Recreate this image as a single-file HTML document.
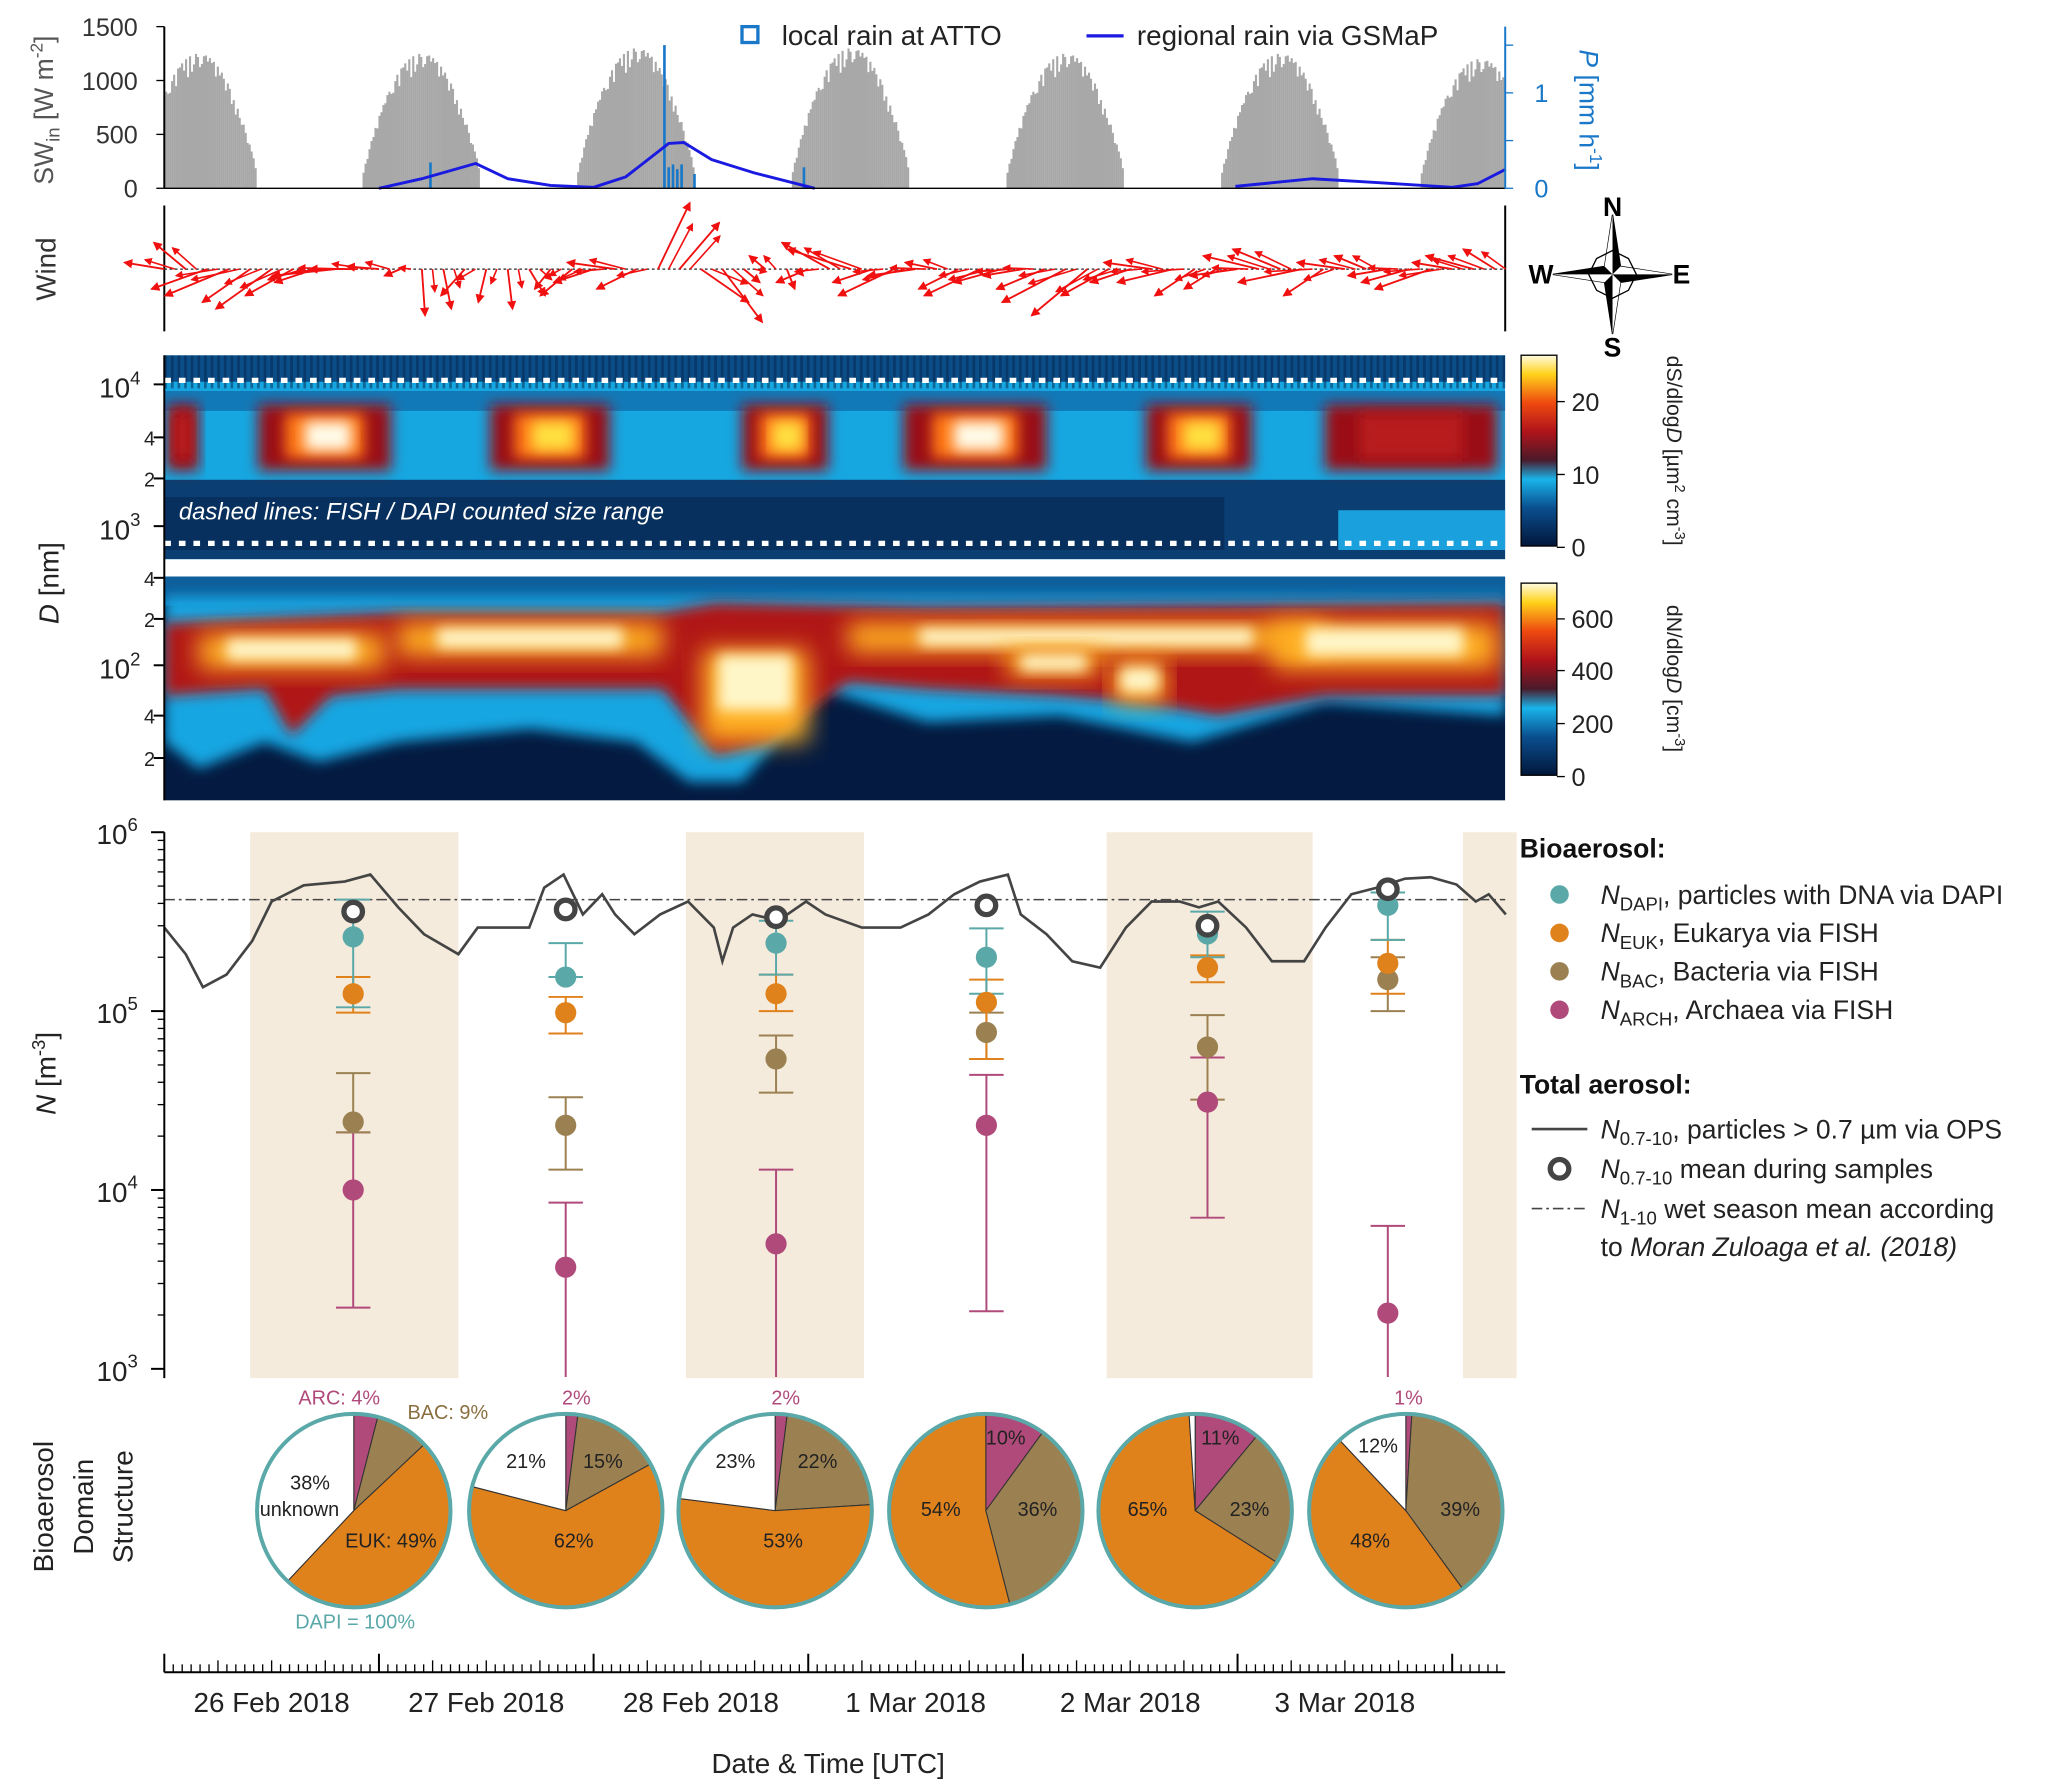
<!DOCTYPE html>
<html><head><meta charset="utf-8"><style>
html,body{margin:0;padding:0;background:#fff}
svg{display:block;font-family:"Liberation Sans",Arial,sans-serif}
</style></head><body>
<svg id="fig" width="2067" height="1789" viewBox="0 0 1560 1350" xmlns="http://www.w3.org/2000/svg">
<defs>
<linearGradient id="cbS" x1="0" y1="1" x2="0" y2="0"><stop offset="0" stop-color="#02163a"/><stop offset="0.2" stop-color="#0a4f8f"/><stop offset="0.35" stop-color="#19b4ea"/><stop offset="0.45" stop-color="#4a1a2a"/><stop offset="0.6" stop-color="#b0131a"/><stop offset="0.75" stop-color="#ee4a10"/><stop offset="0.9" stop-color="#ffd21a"/><stop offset="1" stop-color="#fffbe0"/></linearGradient>
<filter id="bl" x="-20%" y="-50%" width="140%" height="200%"><feGaussianBlur stdDeviation="5"/></filter>
<filter id="bl2" x="-20%" y="-50%" width="140%" height="200%"><feGaussianBlur stdDeviation="9"/></filter>
<clipPath id="c1"><rect x="124" y="268" width="1012" height="154"/></clipPath>
<clipPath id="c2"><rect x="124" y="435" width="1012" height="169"/></clipPath>
<marker id="ah" viewBox="0 0 6 6" refX="5" refY="3" markerWidth="5" markerHeight="5" orient="auto"><path d="M0,0L6,3L0,6z" fill="#f01010"/></marker>
</defs>
<g id="sw"></g>
<g id="wind"></g>
<g id="hm"></g>
<g id="np"></g>
<g id="pies"></g>
<g id="tx"></g>
<g id="leg"></g>
</svg>
<script>
// ---- data ----
const dayLabels=["26 Feb 2018","27 Feb 2018","28 Feb 2018","1 Mar 2018","2 Mar 2018","3 Mar 2018"];
const swPeakDays=[0.16,1.2,2.2,3.2,4.2,5.2,6.13];
const swPeaks=[1250,1250,1300,1300,1250,1250,1200];
const swVar=[0.9,0.6,1,0.7,0.95,0.5,1,0.85,0.4,1,0.9,0.7,1,0.6,0.95,1,0.8,0.5,1,0.9];
const gsmapT=[1.0,1.2,1.45,1.6,1.8,2.0,2.15,2.35,2.42,2.55,2.75,3.03];
const gsmapP=[0,0.1,0.26,0.1,0.03,0.01,0.12,0.47,0.48,0.3,0.16,0];
const gsmapT2=[4.99,5.35,5.65,6.0,6.12,6.25];
const gsmapP2=[0.02,0.1,0.06,0.01,0.05,0.2];
const rainT=[1.24,2.33,2.35,2.37,2.39,2.41,2.47,2.98];
const rainP=[0.27,1.5,0.22,0.25,0.2,0.25,0.15,0.22];
const windT=[0,0.1,0.2,0.3,0.4,0.5,0.6,0.7,0.8,0.9,1.0,1.1,1.2,1.3,1.4,1.5,1.6,1.7,1.8,1.9,2.0,2.1,2.2,2.3,2.4,2.5,2.6,2.7,2.8,2.9,3.0,3.1,3.2,3.3,3.4,3.5,3.6,3.7,3.8,3.9,4.0,4.1,4.2,4.3,4.4,4.5,4.6,4.7,4.8,4.9,5.0,5.1,5.2,5.3,5.4,5.5,5.6,5.7,5.8,5.9,6.0,6.1,6.2];
const windU=[-25,-20,-35,-40,-30,-35,-30,-25,-40,-30,-20,-10,2,5,-15,-5,3,10,-10,-20,-25,-30,-25,20,25,30,25,10,-10,5,-20,-30,-40,-25,-35,-30,-20,-25,-35,-30,-25,-30,-40,-35,-30,-25,-30,-35,-25,-20,-30,-35,-30,-40,-25,-30,-20,-25,-30,-35,-25,-30,-20];
const windV=[5,20,-15,-20,-25,-30,-20,-10,-5,0,2,-5,-35,-30,-20,-25,-30,-20,-15,-20,-10,5,-15,50,35,-25,-40,-10,10,-15,-10,20,15,-10,-20,-5,5,-15,-20,-10,-5,-15,-25,-35,-20,-10,5,-10,-20,-15,-5,10,15,-10,-20,5,10,-5,-10,-15,5,10,15];
const opsT=[0,0.1,0.18,0.29,0.41,0.5,0.65,0.84,0.96,1.09,1.21,1.37,1.46,1.58,1.7,1.77,1.86,1.95,2.04,2.1,2.19,2.31,2.44,2.56,2.6,2.65,2.74,2.86,2.99,3.08,3.25,3.43,3.56,3.68,3.8,3.93,3.99,4.11,4.23,4.36,4.48,4.6,4.73,4.82,4.91,5.04,5.16,5.31,5.41,5.53,5.65,5.78,5.9,6.02,6.11,6.17,6.25];
const opsN=[2.93e5,2.08e5,1.36e5,1.6e5,2.47e5,4.1e5,5.05e5,5.3e5,5.8e5,3.8e5,2.69e5,2.08e5,2.93e5,2.93e5,2.93e5,4.9e5,5.8e5,3.47e5,4.5e5,3.47e5,2.69e5,3.47e5,4.1e5,2.93e5,1.9e5,2.93e5,3.47e5,3.2e5,4.1e5,3.47e5,2.93e5,2.93e5,3.47e5,4.5e5,5.3e5,5.8e5,3.47e5,2.69e5,1.9e5,1.75e5,2.93e5,4.1e5,4.1e5,3.8e5,4.1e5,2.93e5,1.9e5,1.9e5,2.93e5,4.5e5,4.9e5,5.5e5,5.6e5,5.1e5,4.1e5,4.5e5,3.47e5];
const sampleT=[0.88,1.87,2.85,3.83,4.86,5.7];
const nDAPI=[2.6e5,1.55e5,2.4e5,2.0e5,2.7e5,3.9e5];
const nEUK=[1.25e5,9.8e4,1.25e5,1.12e5,1.75e5,1.85e5];
const nBAC=[2.4e4,2.3e4,5.4e4,7.6e4,6.3e4,1.5e5];
const nARCH=[1.0e4,3.7e3,5.0e3,2.3e4,3.1e4,2.05e3];
const nOPS=[3.6e5,3.7e5,3.35e5,3.9e5,3.0e5,4.8e5];
const eDAPIlo=[1.05e5,1.55e5,1.6e5,1.25e5,2.0e5,2.5e5], eDAPIhi=[4.2e5,2.4e5,3.2e5,2.9e5,3.6e5,4.6e5];
const eEUKlo=[9.8e4,7.5e4,1.0e5,5.4e4,1.45e5,1.25e5], eEUKhi=[1.55e5,1.2e5,1.6e5,1.5e5,2.05e5,2.5e5];
const eBAClo=[2.1e4,1.3e4,3.5e4,5.4e4,3.2e4,1.0e5], eBAChi=[4.5e4,3.3e4,7.3e4,9.8e4,9.5e4,2.0e5];
const eARClo=[2.2e3,8e2,8e2,2.1e3,7e3,8e2], eARChi=[2.1e4,8.5e3,1.3e4,4.4e4,5.5e4,6.3e3];
const wetMean=4.2e5;
const pieARC=[4,2,2,10,11,1], pieBAC=[9,15,22,36,23,39], pieEUK=[49,62,53,54,65,48], pieUNK=[38,21,23,0,1,12];
const pieX=[267,427,585,744,902,1061];
const shadeStart=[0.4,2.43,4.39,6.05], shadeEnd=[1.37,3.26,5.35,6.3];
// ---- helpers ----
const NS="http://www.w3.org/2000/svg";
function mk(p,tag,at,txt){const e=document.createElementNS(NS,tag);for(const k in at)e.setAttribute(k,at[k]);if(txt!=null)e.textContent=txt;p.appendChild(e);return e;}
const X0=124,X1=1136,DAY=162;
const tx=t=>X0+t*DAY;
const ySW=v=>142-v*(122/1500);
const yP=p=>142-p*72;
const yN=v=>1033-(Math.log10(v)-3)*135;
const sw=document.getElementById('sw'),wind=document.getElementById('wind'),hm=document.getElementById('hm'),np=document.getElementById('np'),pies=document.getElementById('pies'),tax=document.getElementById('tx'),leg=document.getElementById('leg');
// ---- SW panel ----
swPeakDays.forEach((c,i)=>{
 for(let k=-44;k<=44;k+=1.5){const t=c+k/DAY;const x=tx(t);if(x<X0||x>X1)continue;
  const s=Math.cos(k/46*Math.PI/2);const v=swPeaks[i]*Math.pow(s,0.8)*(0.75+0.25*swVar[Math.abs(Math.round(k))%swVar.length]);
  const l=mk(sw,'line',{x1:x,x2:x,y1:142,y2:ySW(v),stroke:'#a8a8a8','stroke-width':1.6});
  }
});
rainT.forEach((t,i)=>{const l=mk(sw,'line',{x1:tx(t),x2:tx(t),y1:142,y2:yP(rainP[i]),stroke:'#1a78c8','stroke-width':2});
 });
[[gsmapT,gsmapP],[gsmapT2,gsmapP2]].forEach(([T,P])=>{
 const l=mk(sw,'polyline',{points:T.map((t,i)=>tx(t)+','+yP(P[i])).join(' '),fill:'none',stroke:'#1a1ae0','stroke-width':2.2,'stroke-linejoin':'round'});
 });
mk(sw,'line',{x1:X0,x2:X0,y1:20,y2:142,stroke:'#000','stroke-width':1.5});
mk(sw,'line',{x1:X0,x2:X1,y1:142,y2:142,stroke:'#000','stroke-width':1});
[0,500,1000,1500].forEach(v=>{mk(sw,'line',{x1:X0-6,x2:X0,y1:ySW(v),y2:ySW(v),stroke:'#000'});mk(sw,'text',{x:X0-20,y:ySW(v)+7,'text-anchor':'end','font-size':19,fill:'#333'},v);});
mk(sw,'line',{x1:X1,x2:X1,y1:20,y2:142,stroke:'#1a78c8','stroke-width':1.5});
[0,0.5,1,1.5].forEach(p=>{mk(sw,'line',{x1:X1,x2:X1+6,y1:yP(p),y2:yP(p),stroke:'#1a78c8'});});
[0,1].forEach(p=>mk(sw,'text',{x:X1+22,y:yP(p)+7,'font-size':19,fill:'#1a78c8'},p));
let t1=mk(sw,'text',{transform:'translate(40,83) rotate(-90)','text-anchor':'middle','font-size':20,fill:'#555'});t1.innerHTML='SW<tspan font-size="14" dy="5">in</tspan><tspan dy="-5"> [W m</tspan><tspan font-size="13" dy="-8">-2</tspan><tspan dy="8">]</tspan>';
let t2=mk(sw,'text',{transform:'translate(1192,83) rotate(90)','text-anchor':'middle','font-size':20,fill:'#1a78c8'});t2.innerHTML='<tspan font-style="italic">P</tspan> [mm h<tspan font-size="13" dy="-8">-1</tspan><tspan dy="8">]</tspan>';
mk(sw,'rect',{x:560,y:20,width:12,height:12,fill:'none',stroke:'#1a78c8','stroke-width':2.5,});
mk(sw,'text',{x:590,y:34,'font-size':21,fill:'#222'},'local rain at ATTO');
mk(sw,'line',{x1:820,x2:848,y1:27,y2:27,stroke:'#1a1ae0','stroke-width':2.5,});
mk(sw,'text',{x:858,y:34,'font-size':21,fill:'#222'},'regional rain via GSMaP');
// ---- wind ----
mk(wind,'line',{x1:X0,x2:X0,y1:155,y2:250,stroke:'#000','stroke-width':1.5});
mk(wind,'line',{x1:X1,x2:X1,y1:155,y2:250,stroke:'#000','stroke-width':1.5});
mk(wind,'line',{x1:X0,x2:X1,y1:203,y2:203,stroke:'#222','stroke-dasharray':'2,2'});
windT.forEach((t,i)=>{const x=tx(t);
 const l=mk(wind,'line',{x1:x,y1:203,x2:x+windU[i]*1.2,y2:203-windV[i]*1.0,stroke:'#f01010','stroke-width':1.4,'marker-end':'url(#ah)'});
 
 const l2=mk(wind,'line',{x1:x+8,y1:203,x2:x+8+windU[i]*0.9,y2:203-windV[i]*0.6-4,stroke:'#f01010','stroke-width':1.2,'marker-end':'url(#ah)'});
 
});
mk(wind,'text',{transform:'translate(42,203) rotate(-90)','text-anchor':'middle','font-size':21,fill:'#333'},'Wind');
const cp=mk(wind,'g',{transform:'translate(1217,207)',});
mk(cp,'path',{d:'M0,-45L6,-6L45,0L6,6L0,45L-6,6L-45,0L-6,-6Z',fill:'#000',stroke:'#000'});
mk(cp,'path',{d:'M0,-45L0,0L-6,-6ZM45,0L0,0L6,-6ZM0,45L0,0L6,6ZM-45,0L0,0L-6,6Z',fill:'#fff'});
mk(cp,'path',{d:'M0,-18L12,-12L18,0L12,12L0,18L-12,12L-18,0L-12,-12Z',fill:'none',stroke:'#000','stroke-width':1});
mk(cp,'text',{x:0,y:-44,'text-anchor':'middle','font-size':20,'font-weight':'bold'},'N');
mk(cp,'text',{x:0,y:62,'text-anchor':'middle','font-size':20,'font-weight':'bold'},'S');
mk(cp,'text',{x:-54,y:7,'text-anchor':'middle','font-size':20,'font-weight':'bold'},'W');
mk(cp,'text',{x:52,y:7,'text-anchor':'middle','font-size':20,'font-weight':'bold'},'E');
// ---- heatmaps ----
const g1=mk(hm,'g',{'clip-path':'url(#c1)',});
mk(g1,'rect',{x:X0,y:268,width:1012,height:154,fill:'#16a6e0'});
mk(g1,'rect',{x:X0,y:268,width:1012,height:20,fill:'#0b4d86'});
mk(g1,'rect',{x:X0,y:295,width:1012,height:15,fill:'#1279b8'});
mk(g1,'rect',{x:X0,y:362,width:1012,height:60,fill:'#0b3f73'});
mk(g1,'rect',{x:X0,y:375,width:800,height:40,fill:'#07305e'});
mk(g1,'rect',{x:1010,y:385,width:126,height:30,fill:'#1aa0dc'});
for(let x=X0;x<X1;x+=5){mk(g1,'rect',{x:x,y:268,width:2,height:25,fill:'#06264d',opacity:0.5});}
[[195,295,1],[370,460,0.8],[560,625,0.8],[682,790,1],[865,945,0.8],[1000,1130,0.4],[126,150,0.3]].forEach(([a,b,k])=>{
 mk(g1,'rect',{x:a,y:305,width:b-a,height:50,fill:'#9a1018',filter:'url(#bl)'});
 mk(g1,'rect',{x:a+(b-a)*0.2,y:312,width:(b-a)*0.6,height:34,fill:k>0.5?'#ff7a18':'#b81a1a',filter:'url(#bl)'});
 if(k>0.7)mk(g1,'rect',{x:a+(b-a)*0.35,y:318,width:(b-a)*0.35,height:22,fill:k>0.9?'#fffbe8':'#ffe040',filter:'url(#bl)'});
});
mk(g1,'line',{x1:X0,x2:X1,y1:287,y2:287,stroke:'#fff','stroke-width':4,'stroke-dasharray':'5,6'});
mk(g1,'line',{x1:X0,x2:X1,y1:410,y2:410,stroke:'#fff','stroke-width':4,'stroke-dasharray':'5,6'});
mk(g1,'text',{x:135,y:392,'font-size':18,'font-style':'italic',fill:'#fff'},'dashed lines:  FISH / DAPI counted size range');
const g2=mk(hm,'g',{'clip-path':'url(#c2)',});
mk(g2,'rect',{x:X0,y:435,width:1012,height:169,fill:'#041a40'});
mk(g2,'rect',{x:X0,y:435,width:1012,height:22,fill:'#0e5f9c'});
mk(g2,'path',{d:'M124,450L1136,450L1136,540L1000,530L900,560L800,540L700,545L620,520L560,590L520,590L480,560L400,550L300,560L240,575L200,560L150,580L124,560Z',fill:'#18a6e2',filter:'url(#bl)'});
mk(g2,'path',{d:'M124,470L300,462L500,462L540,455L700,458L1136,455L1136,525L1000,525L920,540L860,530L800,525L700,520L640,515L580,560L540,570L500,520L420,520L300,520L250,525L220,555L200,520L124,525Z',fill:'#b01818',filter:'url(#bl)'});
[[150,290,478,505],[300,500,470,495],[530,610,490,560],[640,1000,470,492],[960,1130,470,505],[760,830,490,510],[840,880,500,530]].forEach(([a,b,y0,y1])=>{
 mk(g2,'rect',{x:a,y:y0,width:b-a,height:y1-y0,fill:'#ffb020',filter:'url(#bl2)'});
 mk(g2,'rect',{x:a+(b-a)*0.15,y:y0+4,width:(b-a)*0.7,height:(y1-y0)*0.6,fill:'#fff6c8',filter:'url(#bl)'});
});
mk(hm,'line',{x1:X0,x2:X0,y1:268,y2:604,stroke:'#000','stroke-width':1.5});
[['10',4,290],['4',null,330],['2',null,361],['10',3,397],['4',null,436],['2',null,467],['10',2,502],['4',null,540],['2',null,572]].forEach(([s,e,y])=>{
 mk(hm,'line',{x1:X0-8,x2:X0,y1:y,y2:y,stroke:'#000','stroke-width':1.5});
 const t=mk(hm,'text',{x:e?X0-18:X0-7,y:y+(e?10:6),'text-anchor':'end','font-size':e?21:15,fill:'#222'});
 t.innerHTML=e?s+'<tspan font-size="14" dy="-10">'+e+'</tspan>':s;
});
let t3=mk(hm,'text',{transform:'translate(44,440) rotate(-90)','text-anchor':'middle','font-size':21,fill:'#222'});t3.innerHTML='<tspan font-style="italic">D</tspan> [nm]';
mk(hm,'rect',{x:1148,y:268,width:27,height:144,fill:'url(#cbS)',stroke:'#000',});
mk(hm,'rect',{x:1148,y:440,width:27,height:145,fill:'url(#cbS)',stroke:'#000',});
[['20',303],['10',358],['0',413],['600',467],['400',506],['200',546],['0',586]].forEach(([s,y])=>{mk(hm,'line',{x1:1175,x2:1181,y1:y,y2:y,stroke:'#000'});mk(hm,'text',{x:1186,y:y+7,'font-size':19,fill:'#222'},s);});
let t4=mk(hm,'text',{transform:'translate(1258,340) rotate(90)','text-anchor':'middle','font-size':16,fill:'#222'});t4.innerHTML='dS/dlog<tspan font-style="italic">D</tspan> [µm<tspan font-size="11" dy="-6">2</tspan><tspan dy="6"> cm</tspan><tspan font-size="11" dy="-6">-3</tspan><tspan dy="6">]</tspan>';
let t5=mk(hm,'text',{transform:'translate(1258,512) rotate(90)','text-anchor':'middle','font-size':16,fill:'#222'});t5.innerHTML='dN/dlog<tspan font-style="italic">D</tspan> [cm<tspan font-size="11" dy="-6">-3</tspan><tspan dy="6">]</tspan>';
// ---- N panel ----
shadeStart.forEach((s,i)=>{const r=mk(np,'rect',{x:tx(s),y:628,width:tx(shadeEnd[i])-tx(s),height:412,fill:'#f5ebdc'});
 });
mk(np,'line',{x1:X0,x2:X1,y1:yN(wetMean),y2:yN(wetMean),stroke:'#444','stroke-width':1.2,'stroke-dasharray':'8,3,2,3',});
const ops=mk(np,'polyline',{points:opsT.map((t,i)=>tx(t)+','+yN(opsN[i])).join(' '),fill:'none',stroke:'#444','stroke-width':2});

function ebar(lo,hi,col,w,nm){sampleT.forEach((t,i)=>{const x=tx(t),a=yN(Math.max(lo[i],9e2)),b=yN(hi[i]);
 const g=mk(np,'g',{stroke:col,'stroke-width':1.5});
 mk(g,'line',{x1:x,x2:x,y1:a,y2:b});mk(g,'line',{x1:x-w,x2:x+w,y1:b,y2:b});if(lo[i]>=1e3)mk(g,'line',{x1:x-w,x2:x+w,y1:a,y2:a});});}
ebar(eARClo,eARChi,'#b04a7a',13,'archaea-error-bar');ebar(eBAClo,eBAChi,'#9b8152',13,'bacteria-error-bar');
ebar(eEUKlo,eEUKhi,'#e0821c',13,'eukarya-error-bar');ebar(eDAPIlo,eDAPIhi,'#5aa8a8',13,'dapi-error-bar');
function dots(arr,col,nm){sampleT.forEach((t,i)=>{const c=mk(np,'circle',{cx:tx(t),cy:yN(arr[i]),r:8,fill:col});});}
dots(nARCH,'#b04a7a','archaea-point');dots(nBAC,'#9b8152','bacteria-point');dots(nEUK,'#e0821c','eukarya-point');dots(nDAPI,'#5aa8a8','dapi-point');
sampleT.forEach((t,i)=>{const c=mk(np,'circle',{cx:tx(t),cy:yN(nOPS[i]),r:7,fill:'#fff',stroke:'#444','stroke-width':4});});
mk(np,'line',{x1:X0,x2:X0,y1:628,y2:1040,stroke:'#000','stroke-width':1.5});
for(let d=3;d<=6;d++){const y=yN(Math.pow(10,d));mk(np,'line',{x1:X0-10,x2:X0,y1:y,y2:y,stroke:'#000','stroke-width':1.5});
 const t=mk(np,'text',{x:X0-20,y:y+9,'text-anchor':'end','font-size':21,fill:'#222'});t.innerHTML='10<tspan font-size="14" dy="-10">'+d+'</tspan>';
 if(d<6)for(let m=2;m<10;m++){const yy=yN(m*Math.pow(10,d));mk(np,'line',{x1:X0-5,x2:X0,y1:yy,y2:yy,stroke:'#000'});}}
let t6=mk(np,'text',{transform:'translate(42,810) rotate(-90)','text-anchor':'middle','font-size':21,fill:'#222'});t6.innerHTML='<tspan font-style="italic">N</tspan> [m<tspan font-size="14" dy="-8">-3</tspan><tspan dy="8">]</tspan>';
// ---- pies ----
const R=73,PY=1140;
pieX.forEach((cx,i)=>{const g=mk(pies,'g',{});
 const parts=[[pieARC[i],'#b04a7a'],[pieBAC[i],'#9b8152'],[pieEUK[i],'#e0821c'],[pieUNK[i],'#ffffff']];let a=0;
 parts.forEach(([p,c])=>{if(p<=0)return;const a0=a/100*2*Math.PI,a1=(a+p)/100*2*Math.PI;a+=p;
  const x0=cx+R*Math.sin(a0),y0=PY-R*Math.cos(a0),x1=cx+R*Math.sin(a1),y1=PY-R*Math.cos(a1);
  const s=mk(g,'path',{d:`M${cx},${PY}L${x0},${y0}A${R},${R} 0 ${p>50?1:0} 1 ${x1},${y1}Z`,fill:c,stroke:'#333','stroke-width':0.8});
  });
 mk(g,'circle',{cx:cx,cy:PY,r:R,fill:'none',stroke:'#5aa8a8','stroke-width':3});
});
const pl=[[234,1124,'38%'],[226,1144,'unknown'],[295,1168,'EUK: 49%'],[397,1108,'21%'],[455,1108,'15%'],[433,1168,'62%'],[555,1108,'23%'],[617,1108,'22%'],[591,1168,'53%'],[759,1090,'10%'],[710,1144,'54%'],[783,1144,'36%'],[921,1090,'11%'],[866,1144,'65%'],[943,1144,'23%'],[1040,1096,'12%'],[1034,1168,'48%'],[1102,1144,'39%']];
pl.forEach(([x,y,s])=>mk(pies,'text',{x:x,y:y,'text-anchor':'middle','font-size':15,fill:'#222'},s));
mk(pies,'text',{x:256,y:1060,'text-anchor':'middle','font-size':15,fill:'#b04a7a'},'ARC: 4%');
mk(pies,'text',{x:338,y:1071,'text-anchor':'middle','font-size':15,fill:'#8a6f40'},'BAC: 9%');
[[435,'2%'],[593,'2%'],[1063,'1%']].forEach(([x,s])=>mk(pies,'text',{x:x,y:1060,'text-anchor':'middle','font-size':15,fill:'#b04a7a'},s));
mk(pies,'text',{x:268,y:1229,'text-anchor':'middle','font-size':15,fill:'#5aa8a8'},'DAPI = 100%');
[['Bioaerosol',40],['Domain',70],['Structure',100]].forEach(([s,x])=>mk(pies,'text',{transform:`translate(${x},1137) rotate(-90)`,'text-anchor':'middle','font-size':21,fill:'#222'},s));
// ---- time axis ----
mk(tax,'line',{x1:X0,x2:X1,y1:1262,y2:1262,stroke:'#000','stroke-width':1.5});
for(let h=0;h*DAY/24<=1012;h++){const x=X0+h*DAY/24;const L=h%24==0?14:(h%6==0?9:6);mk(tax,'line',{x1:x,x2:x,y1:1262,y2:1262-L,stroke:'#000','stroke-width':h%24==0?1.5:1});}
dayLabels.forEach((s,i)=>{const t=mk(tax,'text',{x:tx(i+0.5),y:1292,'text-anchor':'middle','font-size':21,fill:'#222'},s);});
mk(tax,'text',{x:625,y:1338,'text-anchor':'middle','font-size':21,fill:'#222'},'Date & Time [UTC]');
// ---- legend ----
mk(leg,'text',{x:1147,y:647,'font-size':20,'font-weight':'bold',fill:'#111'},'Bioaerosol:');
[['#5aa8a8','DAPI',', particles with DNA via DAPI',675],['#e0821c','EUK',', Eukarya via FISH',704],['#9b8152','BAC',', Bacteria via FISH',733],['#b04a7a','ARCH',', Archaea via FISH',762]].forEach(([c,sub,s,y])=>{
 mk(leg,'circle',{cx:1177,cy:y,r:7,fill:c});
 const t=mk(leg,'text',{x:1208,y:y+7,'font-size':20,fill:'#222'});t.innerHTML='<tspan font-style="italic">N</tspan><tspan font-size="14" dy="5">'+sub+'</tspan><tspan dy="-5">'+s+'</tspan>';});
mk(leg,'text',{x:1147,y:825,'font-size':20,'font-weight':'bold',fill:'#111'},'Total aerosol:');
mk(leg,'line',{x1:1156,x2:1198,y1:852,y2:852,stroke:'#444','stroke-width':2});
mk(leg,'circle',{cx:1177,cy:882,r:7,fill:'#fff',stroke:'#444','stroke-width':4});
mk(leg,'line',{x1:1156,x2:1198,y1:912,y2:912,stroke:'#444','stroke-width':1.2,'stroke-dasharray':'8,3,2,3'});
[['0.7-10',', particles > 0.7 µm via OPS',859],['0.7-10',' mean during samples',889],['1-10',' wet season mean according',919]].forEach(([sub,s,y])=>{
 const t=mk(leg,'text',{x:1208,y:y,'font-size':20,fill:'#222'});t.innerHTML='<tspan font-style="italic">N</tspan><tspan font-size="14" dy="5">'+sub+'</tspan><tspan dy="-5">'+s+'</tspan>';});
const t7=mk(leg,'text',{x:1208,y:948,'font-size':20,fill:'#222'});t7.innerHTML='to <tspan font-style="italic">Moran Zuloaga et al. (2018)</tspan>';
</script>
</body></html>
